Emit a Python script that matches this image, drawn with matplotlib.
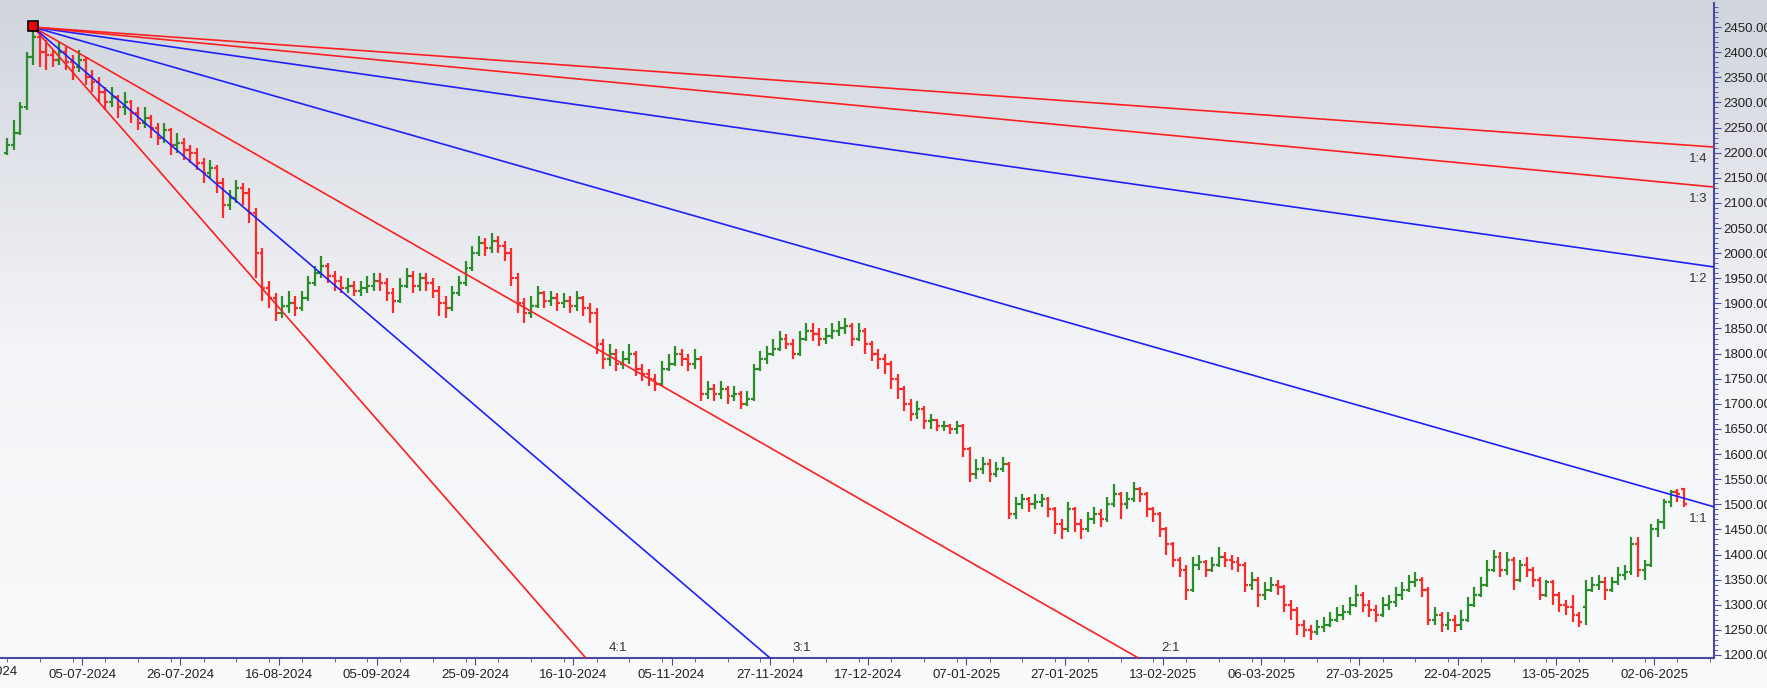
import numpy as np
import matplotlib
matplotlib.use("Agg")
import matplotlib.pyplot as plt
from matplotlib.collections import LineCollection
from matplotlib.ticker import MultipleLocator, FixedLocator
from matplotlib.colors import LinearSegmentedColormap
import matplotlib.transforms as mtransforms

close = [2215,2240,2290,2390,2430,2400,2395,2385,2400,2380,
         2370,2385,2350,2340,2320,2300,2310,2290,2300,2280,
         2260,2270,2250,2230,2245,2215,2220,2205,2200,2180,
         2160,2170,2140,2095,2110,2130,2120,2080,2000,1930,
         1910,1880,1895,1900,1890,1910,1940,1960,1975,1955,
         1945,1930,1935,1925,1930,1935,1945,1940,1920,1905,
         1935,1955,1935,1950,1940,1925,1900,1890,1920,1940,
         1970,2000,2020,2010,2025,2015,2000,1950,1900,1880,
         1895,1920,1905,1910,1900,1905,1895,1910,1890,1880,
         1820,1790,1800,1780,1790,1800,1770,1760,1750,1740,
         1770,1780,1800,1790,1780,1790,1720,1730,1720,1730,
         1715,1720,1700,1710,1770,1790,1800,1810,1830,1820,
         1800,1830,1845,1840,1830,1835,1845,1850,1855,1830,
         1845,1820,1800,1790,1780,1750,1730,1700,1680,1690,
         1665,1668,1655,1655,1650,1655,1610,1560,1570,1580,
         1560,1570,1580,1480,1500,1510,1500,1505,1510,1490,
         1460,1450,1490,1460,1450,1470,1480,1470,1500,1520,
         1500,1510,1530,1520,1490,1480,1450,1420,1390,1370,
         1330,1380,1385,1370,1380,1395,1390,1385,1380,1340,
         1350,1320,1330,1340,1335,1300,1290,1260,1250,1245,
         1255,1260,1270,1280,1285,1300,1320,1300,1290,1280,
         1300,1305,1320,1330,1345,1350,1330,1270,1280,1260,
         1270,1260,1270,1300,1320,1340,1370,1395,1370,1390,
         1350,1380,1370,1350,1320,1345,1320,1300,1295,1280,
         1265,1330,1340,1345,1330,1345,1360,1365,1420,1370,
         1380,1450,1465,1505,1525,1520,1500]

opens = [2200,2215,2240,2290,2390,2430,2400,2395,2385,2400,
         2380,2370,2385,2350,2340,2320,2300,2310,2290,2300,
         2280,2260,2270,2250,2230,2245,2215,2220,2205,2200,
         2180,2160,2170,2140,2095,2110,2130,2120,2080,2000,
         1930,1910,1880,1895,1900,1890,1910,1940,1960,1975,
         1955,1945,1930,1935,1925,1930,1935,1945,1940,1920,
         1905,1935,1955,1935,1950,1940,1925,1900,1890,1920,
         1940,1970,2000,2020,2010,2025,2015,2000,1950,1900,
         1880,1895,1920,1905,1910,1900,1905,1895,1910,1890,
         1880,1820,1790,1800,1780,1790,1800,1770,1760,1750,
         1740,1770,1780,1800,1790,1780,1790,1720,1730,1720,
         1730,1715,1720,1700,1710,1770,1790,1800,1810,1830,
         1820,1800,1830,1845,1840,1830,1835,1845,1850,1855,
         1830,1845,1820,1800,1790,1780,1750,1730,1700,1680,
         1690,1665,1668,1655,1655,1650,1655,1610,1560,1570,
         1580,1560,1570,1580,1480,1500,1510,1500,1505,1510,
         1490,1460,1450,1490,1460,1450,1470,1480,1470,1500,
         1520,1500,1510,1530,1520,1490,1480,1450,1420,1390,
         1370,1330,1380,1385,1370,1380,1395,1390,1385,1380,
         1340,1350,1320,1330,1340,1335,1300,1290,1260,1250,
         1245,1255,1260,1270,1280,1285,1300,1320,1300,1290,
         1280,1300,1305,1320,1330,1345,1350,1330,1270,1280,
         1260,1270,1260,1270,1300,1320,1340,1370,1395,1370,
         1390,1350,1380,1370,1350,1320,1345,1320,1300,1295,
         1280,1295,1330,1340,1345,1330,1345,1360,1365,1420,
         1370,1380,1450,1465,1505,1525,1530]

high = [2230,2265,2300,2400,2452,2440,2425,2405,2420,2410,
        2395,2405,2390,2365,2350,2330,2330,2315,2320,2305,
        2290,2290,2275,2260,2260,2250,2240,2230,2215,2210,
        2190,2185,2175,2150,2125,2145,2140,2130,2090,2010,
        1945,1920,1915,1925,1915,1925,1955,1975,1995,1980,
        1965,1955,1950,1945,1945,1955,1960,1960,1950,1930,
        1950,1970,1965,1960,1960,1950,1935,1915,1935,1955,
        1985,2015,2035,2030,2040,2035,2025,2010,1960,1910,
        1915,1935,1925,1925,1920,1920,1915,1925,1915,1900,
        1890,1830,1820,1810,1805,1820,1805,1780,1770,1760,
        1785,1800,1815,1810,1800,1810,1795,1745,1740,1745,
        1735,1735,1725,1725,1780,1805,1815,1830,1845,1840,
        1830,1845,1860,1860,1850,1850,1860,1865,1870,1860,
        1860,1850,1825,1810,1800,1785,1760,1735,1710,1705,
        1695,1680,1670,1665,1660,1665,1660,1615,1590,1595,
        1590,1585,1595,1585,1515,1520,1515,1520,1520,1515,
        1495,1470,1505,1495,1470,1485,1495,1490,1515,1540,
        1525,1525,1545,1535,1525,1495,1485,1455,1425,1395,
        1380,1395,1400,1390,1395,1415,1405,1400,1395,1385,
        1365,1355,1345,1355,1350,1340,1310,1295,1270,1260,
        1270,1275,1285,1295,1300,1315,1340,1325,1310,1300,
        1315,1320,1335,1345,1360,1365,1355,1335,1295,1285,
        1285,1280,1290,1315,1335,1355,1390,1410,1405,1405,
        1395,1390,1395,1375,1355,1350,1350,1325,1310,1320,
        1285,1350,1355,1360,1355,1355,1375,1380,1435,1435,
        1390,1460,1470,1510,1528,1530,1532]

low = [2195,2205,2235,2285,2375,2370,2365,2370,2375,2365,
       2345,2360,2335,2320,2300,2285,2290,2270,2275,2260,
       2245,2250,2230,2215,2220,2195,2200,2185,2180,2165,
       2140,2150,2120,2070,2085,2100,2095,2060,1950,1905,
       1890,1865,1870,1880,1875,1885,1905,1935,1950,1940,
       1925,1920,1920,1915,1915,1920,1925,1925,1905,1880,
       1900,1930,1920,1925,1925,1910,1875,1870,1885,1915,
       1935,1965,1995,1995,2000,2000,1985,1935,1880,1860,
       1870,1890,1890,1895,1885,1890,1880,1885,1875,1860,
       1800,1770,1775,1765,1770,1780,1755,1745,1735,1725,
       1735,1765,1775,1775,1765,1770,1705,1710,1705,1710,
       1700,1705,1690,1695,1705,1765,1780,1795,1805,1810,
       1790,1795,1825,1825,1815,1820,1830,1835,1840,1815,
       1825,1800,1785,1770,1760,1730,1710,1685,1665,1670,
       1650,1650,1645,1645,1640,1640,1595,1545,1550,1560,
       1545,1555,1565,1470,1470,1490,1485,1490,1495,1475,
       1440,1430,1445,1445,1430,1445,1460,1455,1465,1495,
       1470,1490,1505,1505,1475,1465,1435,1400,1375,1355,
       1310,1325,1370,1355,1365,1375,1375,1370,1365,1325,
       1330,1295,1310,1325,1320,1285,1270,1240,1235,1230,
       1240,1245,1255,1265,1270,1280,1295,1285,1275,1265,
       1275,1290,1295,1310,1325,1335,1315,1260,1260,1245,
       1250,1245,1250,1265,1295,1315,1335,1365,1355,1360,
       1330,1345,1355,1335,1310,1315,1300,1285,1280,1265,
       1255,1260,1325,1330,1310,1325,1340,1350,1360,1355,
       1350,1375,1435,1450,1495,1505,1495]

date_labels = ["14-06-2024","05-07-2024","26-07-2024","16-08-2024","05-09-2024",
               "25-09-2024","16-10-2024","05-11-2024","27-11-2024","17-12-2024",
               "07-01-2025","27-01-2025","13-02-2025","06-03-2025","27-03-2025",
               "22-04-2025","13-05-2025","02-06-2025"]
date_positions = [-3.55,11.45,26.45,41.45,56.45,71.45,86.45,101.45,116.45,131.45,
                  146.45,161.45,176.45,191.45,206.45,221.45,236.45,251.45]

pivot_index = 4
pivot_price = 2450
unit = 3.722  # price per bar for the 1x1 line
fan_ratios = [4, 3, 2, 1, 1/2, 1/3, 1/4]
fan_names = ["4:1", "3:1", "2:1", "1:1", "1:2", "1:3", "1:4"]
fan_colors = ["#ff2020", "#2020ff", "#ff2020", "#2020ff", "#2020ff", "#ff2020", "#ff2020"]

W, H = 1767, 688
plt.rcParams['font.family'] = ['Liberation Sans', 'DejaVu Sans']
fig = plt.figure(figsize=(W/100, H/100), dpi=100)

bg = fig.add_axes([0, 0, 1, 1], zorder=-10)
grad = np.linspace(0, 1, 256).reshape(-1, 1)
cm = LinearSegmentedColormap.from_list("g", ["#fafbfc", "#f3f4f7", "#d0d5dd"])
bg.imshow(grad, aspect='auto', cmap=cm, origin='lower', extent=[0, 1, 0, 1])
bg.axis('off')

ax = fig.add_axes([0, 1 - 658/H, 1714/W, (658 - 3)/H])
ax.patch.set_alpha(0)
xmin, xmax = -1.07, 260.6
ymin, ymax = 1194, 2498
ax.set_xlim(xmin, xmax)
ax.set_ylim(ymin, ymax)

n = len(close)
tick = 0.45
segs, cols = [], []
for i in range(n):
    c = "#2a8f2a" if close[i] >= opens[i] else "#ff2a2a"
    segs += [[(i, low[i]), (i, high[i])], [(i - tick, opens[i]), (i, opens[i])],
             [(i, close[i]), (i + tick, close[i])]]
    cols += [c, c, c]
ax.add_collection(LineCollection(segs, colors=cols, linewidths=1.6, zorder=3))

for r, name, col in zip(fan_ratios, fan_names, fan_colors):
    xs = np.array([pivot_index, xmax])
    ys = pivot_price - r * unit * (xs - pivot_index)
    ax.plot(xs, ys, color=col, lw=1.2, zorder=4)
    if ys[-1] >= ymin:
        ax.text(xmax - 1.0, ys[-1] - 12, name, ha='right', va='top', fontsize=9.5, color='#333333')
    else:
        xb = pivot_index + (pivot_price - ymin) / (r * unit)
        ax.text(xb + 3.5, ymin + 8, name, ha='left', va='bottom', fontsize=9.5, color='#333333')

ax.plot([pivot_index], [pivot_price + 3], marker='s', ms=7, mfc='#ee0000', mec='black', mew=1.2, zorder=6)

for s in ['top', 'left']:
    ax.spines[s].set_visible(False)
for s in ['right', 'bottom']:
    ax.spines[s].set_color('#4a4aa0')
    ax.spines[s].set_linewidth(1.5)
ax.yaxis.tick_right()
ax.yaxis.set_major_locator(MultipleLocator(50))
ax.yaxis.set_minor_locator(MultipleLocator(10))
ax.yaxis.set_major_formatter(matplotlib.ticker.FormatStrFormatter('%.2f'))
ax.xaxis.set_major_locator(FixedLocator(date_positions[1:]))
ax.set_xticklabels(date_labels[1:])
ax.xaxis.set_minor_locator(MultipleLocator(5))
ax.tick_params(axis='both', which='major', length=5, color='#4a4aa0', labelsize=9.5, labelcolor='#222222', direction='out')
ax.tick_params(axis='both', which='minor', length=3, color='#4a4aa0', direction='out')
ax.tick_params(axis='y', pad=2)
ax.tick_params(axis='x', pad=3)

# first (partially cut) date label left of the plot
trans = mtransforms.blended_transform_factory(ax.transData, ax.transAxes)
ax.text(date_positions[0], -0.0125, date_labels[0], transform=trans, ha='center', va='top',
        fontsize=9.5, color='#222222', clip_on=False)

fig.savefig("out.png", dpi=100)
